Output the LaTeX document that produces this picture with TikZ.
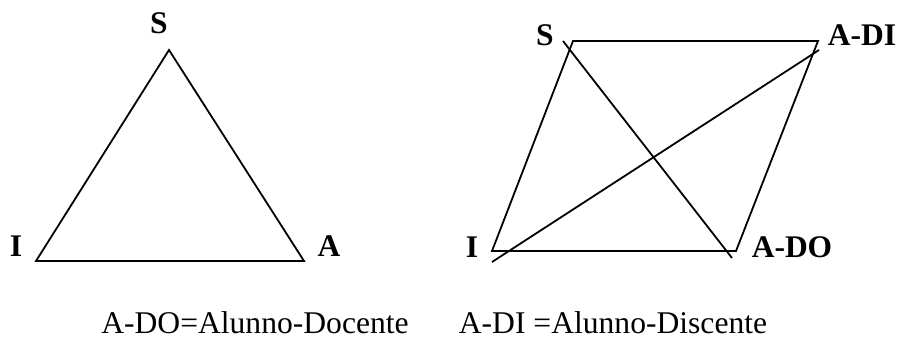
\documentclass[tikz,border=0pt]{standalone}
\usepackage{fontspec}
\setmainfont{Liberation Serif}
\usetikzlibrary{positioning}

\begin{document}
\begin{tikzpicture}[
    x=1pt, y=-1pt,
    vlbl/.style={font=\fontsize{31.5}{32}\selectfont\bfseries, inner sep=0pt},
    note/.style={font=\fontsize{31.6}{32}\selectfont, inner sep=0pt, anchor=base},
    edge/.style={line width=1.8pt, line join=miter}
]
\useasboundingbox (0,0) rectangle (901,340);
% triangle
\coordinate (tS) at (169,50);
\coordinate (tI) at (36,261);
\coordinate (tA) at (304,261);
\node[vlbl] (labS) at (159,23) {S};
\node[vlbl] (labI) at (16,246) {I};
\node[vlbl] (labA) at (329,246) {A};
\draw[edge] (tS) -- (tI) -- (tA) -- cycle;
% parallelogram with diagonals
\coordinate (pS) at (573,41);
\coordinate (pDI) at (818,41);
\coordinate (pI) at (492,251);
\coordinate (pDO) at (736,251);
\coordinate (d1a) at (563,41);
\coordinate (d1b) at (732,258);
\coordinate (d2a) at (492,262);
\coordinate (d2b) at (819,50);
\node[vlbl] (labpS) at (545,35) {S};
\node[vlbl] (labDI) at (862,35) {A-DI};
\node[vlbl] (labpI) at (472,247) {I};
\node[vlbl] (labDO) at (792,247) {A-DO};
\draw[edge] (pS) -- (pDI) -- (pDO) -- (pI) -- cycle;
\draw[edge] (d1a) -- (d1b);
\draw[edge] (d2a) -- (d2b);
% legend
\node[note] (keyDO) at (255,333) {A-DO=Alunno-Docente};
\node[note] (keyDI) at (613,333) {A-DI =Alunno-Discente};
\end{tikzpicture}
\end{document}
